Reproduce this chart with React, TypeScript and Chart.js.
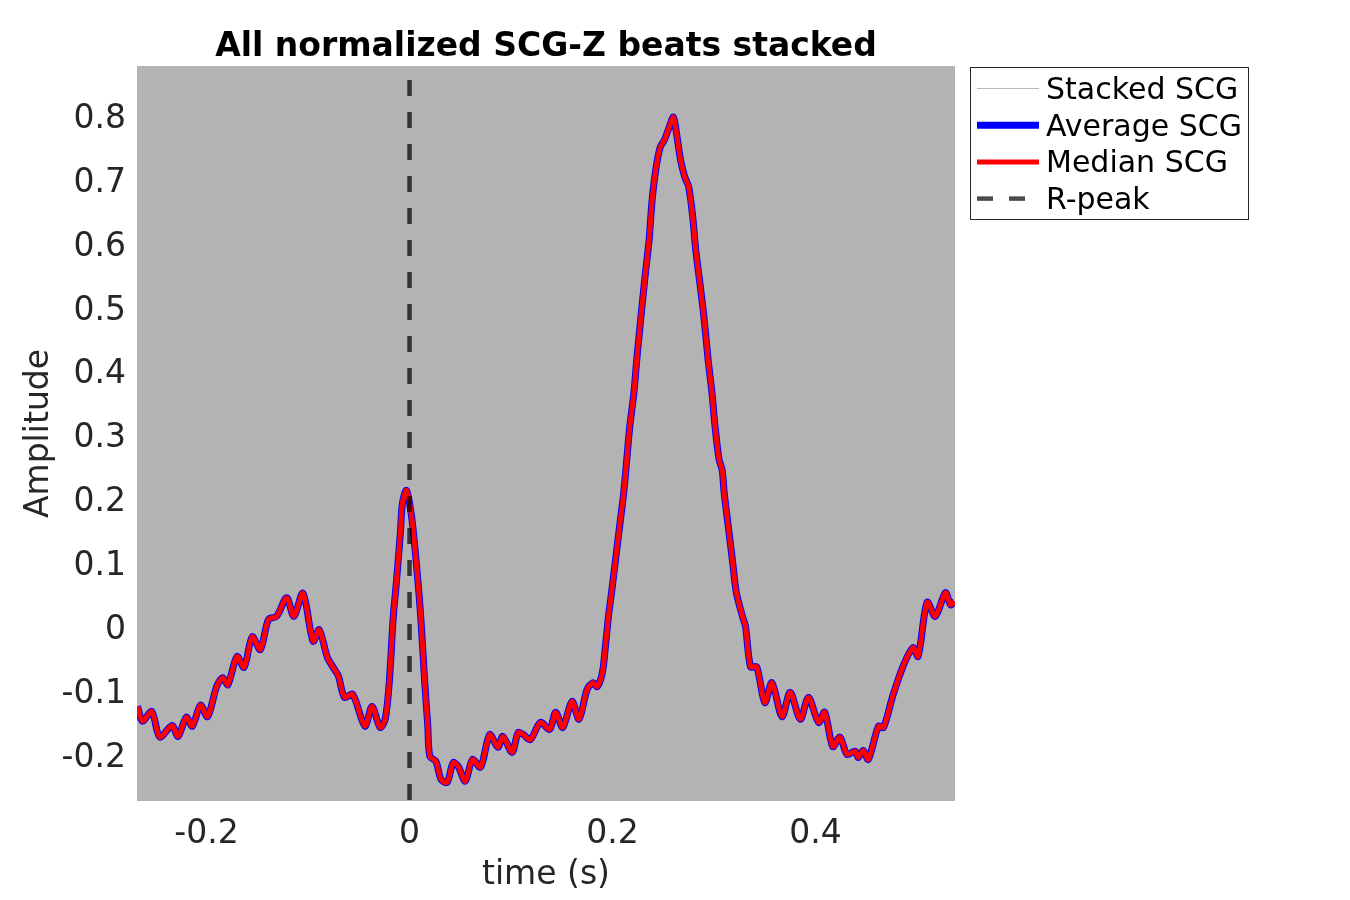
import { useEffect, useRef } from "react";
import { Chart, registerables } from "chart.js";

Chart.register(...registerables);

// time axis (s) of the beat window, relative to the R-peak
const timeS = [
  -0.268, -0.263, -0.254, -0.246, -0.234, -0.228, -0.22, -0.214, -0.206, -0.199,
  -0.19, -0.184, -0.179, -0.17, -0.163, -0.155, -0.147, -0.139, -0.131, -0.121,
  -0.114, -0.105, -0.095, -0.089, -0.081, -0.074, -0.07, -0.064, -0.056, -0.044,
  -0.037, -0.029, -0.024, -0.02, -0.016, -0.013, -0.009, -0.007, -0.003, 0.002,
  0.007, 0.011, 0.015, 0.018, 0.02, 0.026, 0.031, 0.037, 0.043, 0.048,
  0.055, 0.062, 0.07, 0.079, 0.087, 0.092, 0.101, 0.107, 0.112, 0.119,
  0.129, 0.138, 0.144, 0.151, 0.16, 0.167, 0.175, 0.181, 0.185, 0.19,
  0.193, 0.196, 0.199, 0.203, 0.207, 0.211, 0.214, 0.217, 0.221, 0.224,
  0.228, 0.232, 0.236, 0.239, 0.243, 0.247, 0.251, 0.256, 0.26, 0.263,
  0.267, 0.271, 0.275, 0.279, 0.282, 0.286, 0.29, 0.294, 0.298, 0.301,
  0.305, 0.308, 0.31, 0.314, 0.318, 0.322, 0.328, 0.331, 0.336, 0.342,
  0.35, 0.357, 0.367, 0.375, 0.385, 0.393, 0.403, 0.409, 0.417, 0.424,
  0.431, 0.439, 0.442, 0.447, 0.452, 0.462, 0.467, 0.476, 0.486, 0.496,
  0.501, 0.51, 0.518, 0.528, 0.533, 0.537,
];

// normalized SCG-Z amplitude (average and median overlap in the figure)
const scgAmp = [
  -0.125, -0.148, -0.133, -0.173, -0.155, -0.172, -0.142, -0.156, -0.123, -0.141,
  -0.094, -0.08, -0.091, -0.047, -0.064, -0.016, -0.036, 0.011, 0.016, 0.045,
  0.016, 0.052, -0.023, -0.005, -0.048, -0.067, -0.078, -0.111, -0.106, -0.156,
  -0.125, -0.158, -0.145, -0.088, 0.016, 0.068, 0.147, 0.193, 0.213, 0.172,
  0.094, 0.016, -0.088, -0.156, -0.203, -0.211, -0.239, -0.244, -0.213, -0.219,
  -0.242, -0.208, -0.22, -0.169, -0.189, -0.172, -0.197, -0.166, -0.169, -0.177,
  -0.15, -0.161, -0.134, -0.158, -0.117, -0.145, -0.098, -0.088, -0.094, -0.072,
  -0.031, 0.016, 0.053, 0.105, 0.157, 0.209, 0.261, 0.313, 0.365, 0.42,
  0.485, 0.547, 0.605, 0.667, 0.719, 0.75, 0.761, 0.782, 0.797, 0.772,
  0.73, 0.704, 0.688, 0.641, 0.589, 0.538, 0.485, 0.42, 0.365, 0.313,
  0.261, 0.245, 0.209, 0.157, 0.105, 0.053, 0.016, 0.0, -0.063, -0.063,
  -0.119, -0.088, -0.141, -0.103, -0.145, -0.111, -0.15, -0.134, -0.188, -0.173,
  -0.2, -0.195, -0.205, -0.194, -0.208, -0.156, -0.158, -0.109, -0.063, -0.033,
  -0.047, 0.038, 0.016, 0.053, 0.034, 0.039,
];

const xTicks = [-0.2, 0, 0.2, 0.4];
const yTicks = [-0.2, -0.1, 0, 0.1, 0.2, 0.3, 0.4, 0.5, 0.6, 0.7, 0.8];
const xLimits = [-0.2685, 0.5374];
const yLimits = [-0.273, 0.877];
const rPeakTime = 0;

const FONT = "'DejaVu Sans', sans-serif";

const axesBgPlugin = {
  id: "axesBg",
  beforeDraw(chart: any) {
    const { ctx, chartArea } = chart;
    ctx.save();
    ctx.fillStyle = "#b3b3b3";
    ctx.fillRect(chartArea.left, chartArea.top, chartArea.right - chartArea.left, chartArea.bottom - chartArea.top);
    ctx.restore();
  },
};

const titleLegendPlugin = {
  id: "titleLegend",
  afterDraw(chart: any) {
    const { ctx, chartArea } = chart;
    ctx.save();
    // title
    ctx.fillStyle = "#000";
    ctx.font = `bold 33px ${FONT}`;
    ctx.textAlign = "center";
    ctx.textBaseline = "alphabetic";
    ctx.fillText("All normalized SCG-Z beats stacked", (chartArea.left + chartArea.right) / 2, 56);

    // legend box
    ctx.fillStyle = "#fff";
    ctx.fillRect(970.5, 67.5, 278, 152);
    ctx.strokeStyle = "#262626";
    ctx.lineWidth = 1;
    ctx.strokeRect(970.5, 67.5, 278, 152);

    ctx.textAlign = "left";
    ctx.font = `30px ${FONT}`;
    chart.data.datasets.forEach((ds: any, i: number) => {
      const cy = 88.5 + i * 36.7;
      ctx.beginPath();
      ctx.setLineDash(ds.borderDash || []);
      ctx.lineDashOffset = 0;
      ctx.lineCap = "butt";
      ctx.strokeStyle = ds.borderColor;
      ctx.lineWidth = ds.borderWidth;
      ctx.moveTo(977, cy);
      ctx.lineTo(1039, cy);
      ctx.stroke();
      ctx.setLineDash([]);
      ctx.fillStyle = "#000";
      ctx.fillText(ds.label, 1046, cy + 10.5);
    });
    ctx.restore();
  },
};

export default function App() {
  const chartRef = useRef<HTMLCanvasElement>(null);
  const chartInstance = useRef<Chart | null>(null);

  useEffect(() => {
    if (!chartRef.current) return;
    if (chartInstance.current) chartInstance.current.destroy();

    const points = timeS.map((t, i) => ({ x: t, y: scgAmp[i] }));
    const rPeak = [
      { x: rPeakTime, y: yLimits[1] },
      { x: rPeakTime, y: yLimits[0] },
    ];

    chartInstance.current = new Chart(chartRef.current, {
      type: "line",
      data: {
        datasets: [
          {
            label: "Stacked SCG",
            data: points,
            borderColor: "#b8b8b8",
            borderWidth: 1,
            pointRadius: 0,
            tension: 0.3,
            order: 4,
          },
          {
            label: "Average SCG",
            data: points,
            borderColor: "#0000ff",
            borderWidth: 7,
            borderJoinStyle: "round",
            pointRadius: 0,
            tension: 0.3,
            order: 3,
          },
          {
            label: "Median SCG",
            data: points,
            borderColor: "#ff0000",
            borderWidth: 5,
            borderJoinStyle: "round",
            pointRadius: 0,
            tension: 0.3,
            order: 2,
          },
          {
            label: "R-peak",
            data: rPeak,
            borderColor: "rgba(0,0,0,0.7)",
            borderWidth: 4.5,
            borderDash: [16, 16],
            borderDashOffset: 18,
            pointRadius: 0,
            order: 1,
          },
        ],
      },
      options: {
        animation: false,
        responsive: false,
        events: [],
        layout: { padding: { top: 66, right: 395, left: 0, bottom: 0 } },
        plugins: {
          legend: { display: false },
          title: { display: false },
          tooltip: { enabled: false },
        },
        scales: {
          x: {
            type: "linear",
            min: xLimits[0],
            max: xLimits[1],
            afterFit: (scale: any) => {
              scale.height = 99;
            },
            afterBuildTicks: (scale: any) => {
              scale.ticks = xTicks.map((v) => ({ value: v }));
            },
            grid: { display: false, drawTicks: false },
            border: { display: false },
            ticks: {
              color: "#262626",
              font: { family: FONT, size: 33 },
              padding: 14,
              maxRotation: 0,
              callback: (v: any) => String(v),
            },
            title: {
              display: true,
              text: "time (s)",
              color: "#262626",
              font: { family: FONT, size: 33 },
              padding: { top: 0, bottom: 5 },
            },
          },
          y: {
            type: "linear",
            min: yLimits[0],
            max: yLimits[1],
            afterFit: (scale: any) => {
              scale.width = 137;
            },
            afterBuildTicks: (scale: any) => {
              scale.ticks = yTicks.map((v) => ({ value: v }));
            },
            grid: { display: false, drawTicks: false },
            border: { display: false },
            ticks: {
              color: "#262626",
              font: { family: FONT, size: 33 },
              padding: 11,
              labelOffset: 4,
              callback: (v: any) => String(v),
            },
            title: {
              display: true,
              text: "Amplitude",
              color: "#262626",
              font: { family: FONT, size: 33 },
              padding: { top: 20, bottom: 0 },
            },
          },
        },
      },
      plugins: [axesBgPlugin, titleLegendPlugin],
    } as any);

    return () => {
      if (chartInstance.current) {
        chartInstance.current.destroy();
        chartInstance.current = null;
      }
    };
  }, []);

  return (
    <div style={{ position: "fixed", left: 0, top: 0, width: 1350, height: 900, background: "#fff" }}>
      <canvas ref={chartRef} width={1350} height={900} />
    </div>
  );
}
